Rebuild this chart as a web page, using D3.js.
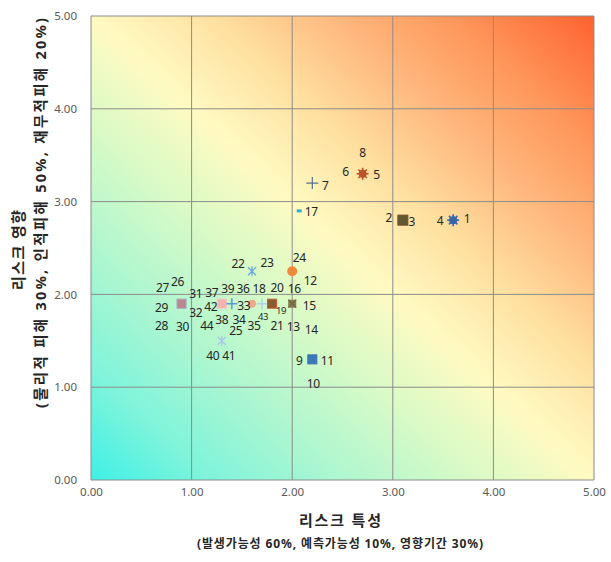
<!DOCTYPE html>
<html>
<head>
<meta charset="utf-8">
<script src="https://cdn.jsdelivr.net/npm/d3@7"></script>
<style>
  body { margin: 0; background: #fff; }
  text { font-family: "Noto Sans", "Noto Sans CJK KR", sans-serif; }
</style>
</head>
<body>
<div id="chart"></div>
<script>
// point labels with their (risk trait, risk impact) values
const pointIds = [1, 2, 3, 4, 5, 6, 7, 8, 9, 10, 11, 12, 13, 14, 15, 16, 17, 18, 19, 20, 21, 22,
    23, 24, 25, 26, 27, 28, 29, 30, 31, 32, 33, 34, 35, 36, 37, 38, 39, 40, 41, 42, 43, 44];
const riskTrait = [3.6, 3.1, 3.1, 3.6, 2.7, 2.7, 2.2, 2.7, 2.2, 2.2, 2.2, 2.0, 2.0, 2.0, 2.0, 2.0,
    2.07, 1.7, 1.8, 1.8, 1.8, 1.6, 1.6, 2.0, 1.3, 0.9, 0.9, 0.9, 0.9, 0.9, 1.3, 1.3, 1.4, 1.6,
    1.6, 1.6, 1.3, 1.4, 1.4, 1.3, 1.3, 1.3, 1.7, 1.3];
const riskImpact = [2.8, 2.8, 2.8, 2.8, 3.3, 3.3, 3.2, 3.3, 1.3, 1.3, 1.3, 2.25, 1.9, 1.9, 1.9, 1.9,
    2.9, 1.9, 1.9, 1.9, 1.9, 2.25, 2.25, 2.25, 1.5, 1.9, 1.9, 1.9, 1.9, 1.9, 1.9, 1.9, 1.9, 1.9,
    1.9, 1.9, 1.9, 1.9, 1.9, 1.5, 1.5, 1.9, 1.9, 1.9];
const axisTicks = [0, 1, 2, 3, 4, 5];

const xTitle = "리스크 특성";
const xSub = "(발생가능성 60%, 예측가능성 10%, 영향기간 30%)";
const yTitle = "리스크 영향";
const ySub = "(물리적 피해 30%, 인적피해 50%, 재무적피해 20%)";

// layout: label offsets (px) from the marker
const labelOffset = {
    1: [14, -2], 4: [-13, 0], 2: [-14, -3], 3: [9, 1],
    5: [14, 1], 6: [-17, -2], 8: [0, -21], 7: [13, 2], 17: [12, 1],
    24: [7, -14], 12: [18, 9], 22: [-14, -8], 23: [15, -9],
    26: [-4, -22], 27: [-19, -16], 29: [-20, 4], 28: [-20, 22], 30: [1, 23],
    31: [-26, -10], 37: [-10, -11], 42: [-11, 3], 32: [-26, 9], 44: [-15, 22],
    39: [-4, -15], 33: [12, 2], 38: [-10, 16],
    36: [-9, -15], 34: [-13, 16], 35: [2, 22],
    18: [-3, -15], 43: [1, 13],
    20: [5, -16], 19: [9, 7], 21: [5, 22],
    16: [2, -15], 15: [17, 2], 13: [1, 23], 14: [19, 26],
    25: [14, -10], 40: [-9, 15], 41: [7, 15],
    9: [-13, 1], 11: [15, 1], 10: [1, 24]
};
const smallLabels = [19, 43];

// marker styles for each plotted position
const markerStyle = {
    "3.6,2.8": { shape: "spiky", fill: "#3767aa", r: 4 },
    "3.1,2.8": { shape: "square", fill: "#5f5a30", stroke: "#7c4a28", s: 10 },
    "2.7,3.3": { shape: "spiky", fill: "#b9552b", r: 4 },
    "2.2,3.2": { shape: "plus", stroke: "#56708f", s: 12, w: 1.2 },
    "2.07,2.9": { shape: "dash", fill: "#3aa8c8" },
    "2,2.25": { shape: "circle", fill: "#f08a3a", r: 5 },
    "1.6,2.25": { shape: "asterisk", stroke: "#6aa8d8", s: 10, w: 1.3 },
    "0.9,1.9": { shape: "square", fill: "#b98890", stroke: "#a9a0c0", s: 9 },
    "1.3,1.9": { shape: "square", fill: "#f6b2b0", stroke: "#f8c4c0", s: 9 },
    "1.4,1.9": { shape: "plus", stroke: "#5a9ad8", s: 11, w: 1.5 },
    "1.6,1.9": { shape: "circle", fill: "#f0a88a", r: 4 },
    "1.7,1.9": { shape: "plus", stroke: "#b0d4ec", s: 11, w: 1.5 },
    "1.8,1.9": { shape: "square", fill: "#8a5a30", stroke: "#c05a30", s: 9 },
    "2,1.9": { shape: "xsquare", fill: "#8a7a58", stroke: "#6f6a40", s: 8 },
    "1.3,1.5": { shape: "asterisk", stroke: "#a8c8ea", s: 10, w: 1.3 },
    "2.2,1.3": { shape: "square", fill: "#3a7ab8", stroke: "#3570b0", s: 9 }
};

const width = 611, height = 562;
const margin = { top: 16, right: 17, bottom: 82, left: 91 };

const svg = d3.select("#chart").append("svg")
    .attr("width", width).attr("height", height);

const x = d3.scaleLinear().domain([0, 5]).range([margin.left, width - margin.right]);
const y = d3.scaleLinear().domain([0, 5]).range([height - margin.bottom, margin.top]);

// background gradient
const defs = svg.append("defs");
const grad = defs.append("linearGradient").attr("id", "bg")
    .attr("x1", 0).attr("y1", 1).attr("x2", 1).attr("y2", 0);
[[0, "#3ef0e6"], [0.12, "#80f4da"], [0.25, "#aef6d0"], [0.38, "#d8fac6"], [0.5, "#fffac2"],
 [0.62, "#ffe0a0"], [0.74, "#ffb87e"], [0.86, "#ff965a"], [1, "#ff6230"]]
    .forEach(([o, c]) => grad.append("stop").attr("offset", o).attr("stop-color", c));

svg.append("rect")
    .attr("x", x(0)).attr("y", y(5))
    .attr("width", x(5) - x(0)).attr("height", y(0) - y(5))
    .attr("fill", "url(#bg)");

// gridlines
svg.append("g").selectAll("line").data(axisTicks).join("line")
    .attr("x1", d => x(d)).attr("x2", d => x(d))
    .attr("y1", y(0)).attr("y2", y(5))
    .attr("stroke", "#8c8c8c").attr("stroke-width", 1);
svg.append("g").selectAll("line").data(axisTicks).join("line")
    .attr("y1", d => y(d)).attr("y2", d => y(d))
    .attr("x1", x(0)).attr("x2", x(5))
    .attr("stroke", "#8c8c8c").attr("stroke-width", 1);

// axes (labels only)
const xAxis = svg.append("g")
    .attr("transform", `translate(0,${y(0)})`)
    .call(d3.axisBottom(x).tickValues(axisTicks).tickFormat(d3.format(".2f")).tickSize(0).tickPadding(8));
const yAxis = svg.append("g")
    .attr("transform", `translate(${x(0)},0)`)
    .call(d3.axisLeft(y).tickValues(axisTicks).tickFormat(d3.format(".2f")).tickSize(0).tickPadding(14));
[xAxis, yAxis].forEach(g => {
    g.select(".domain").remove();
    g.selectAll("text").attr("fill", "#595959").attr("font-size", 11.5)
        .attr("font-family", "Noto Sans, sans-serif");
});

// markers
const points = pointIds.map((id, i) => ({ id, x: riskTrait[i], y: riskImpact[i] }));
const positions = Array.from(d3.group(points, d => d.x + "," + d.y).keys());

const mk = svg.append("g");
positions.forEach(key => {
    const [vx, vy] = key.split(",").map(Number);
    const st = markerStyle[key];
    const g = mk.append("g").attr("transform", `translate(${x(vx)},${y(vy)})`);
    if (st.shape === "square") {
        g.append("rect").attr("x", -st.s / 2).attr("y", -st.s / 2)
            .attr("width", st.s).attr("height", st.s)
            .attr("fill", st.fill).attr("stroke", st.stroke).attr("stroke-width", 1);
    } else if (st.shape === "circle") {
        g.append("circle").attr("r", st.r).attr("fill", st.fill);
    } else if (st.shape === "spiky") {
        g.append("circle").attr("r", st.r).attr("fill", st.fill);
        d3.range(8).forEach(k => {
            const a = k * Math.PI / 4;
            g.append("line").attr("x1", 0).attr("y1", 0)
                .attr("x2", Math.cos(a) * 6).attr("y2", Math.sin(a) * 6)
                .attr("stroke", st.fill).attr("stroke-width", 1.6);
        });
    } else if (st.shape === "plus") {
        const h = st.s / 2;
        g.append("path").attr("d", `M${-h},0H${h}M0,${-h}V${h}`)
            .attr("stroke", st.stroke).attr("stroke-width", st.w).attr("fill", "none");
    } else if (st.shape === "asterisk") {
        const h = st.s / 2;
        g.append("path").attr("d", `M${-h * 0.8},${-h * 0.8}L${h * 0.8},${h * 0.8}M${-h * 0.8},${h * 0.8}L${h * 0.8},${-h * 0.8}M0,${-h}V${h}`)
            .attr("stroke", st.stroke).attr("stroke-width", st.w).attr("fill", "none");
    } else if (st.shape === "dash") {
        g.append("rect").attr("x", -2.5).attr("y", -1.5).attr("width", 5).attr("height", 3)
            .attr("fill", st.fill);
    } else if (st.shape === "xsquare") {
        const h = st.s / 2;
        g.append("rect").attr("x", -h).attr("y", -h).attr("width", st.s).attr("height", st.s)
            .attr("fill", st.fill);
        g.append("path").attr("d", `M${-h},${-h}L${h},${h}M${-h},${h}L${h},${-h}`)
            .attr("stroke", st.stroke).attr("stroke-width", 1.2);
    }
});

// data labels
svg.append("g").selectAll("text").data(points).join("text")
    .attr("x", d => x(d.x) + labelOffset[d.id][0])
    .attr("y", d => y(d.y) + labelOffset[d.id][1])
    .attr("text-anchor", "middle")
    .attr("dominant-baseline", "central")
    .attr("font-size", d => smallLabels.includes(d.id) ? 9.5 : 12)
    .attr("letter-spacing", -0.3)
    .attr("fill", "#262626")
    .text(d => d.id);

// axis titles
const titleFont = "Noto Sans CJK KR, sans-serif";
svg.append("text")
    .attr("x", 340).attr("y", 520)
    .attr("text-anchor", "middle").attr("dominant-baseline", "central")
    .attr("font-family", titleFont).attr("font-weight", "bold").attr("font-size", 15)
    .attr("fill", "#262626")
    .attr("textLength", 82).attr("lengthAdjust", "spacing")
    .text(xTitle);
svg.append("text")
    .attr("x", 340).attr("y", 543)
    .attr("text-anchor", "middle").attr("dominant-baseline", "central")
    .attr("font-family", titleFont).attr("font-weight", "bold").attr("font-size", 12)
    .attr("fill", "#262626")
    .attr("textLength", 286).attr("lengthAdjust", "spacing")
    .text(xSub);
svg.append("text")
    .attr("transform", "translate(18,250) rotate(-90)")
    .attr("text-anchor", "middle").attr("dominant-baseline", "central")
    .attr("font-family", titleFont).attr("font-weight", "bold").attr("font-size", 15)
    .attr("fill", "#262626")
    .attr("textLength", 80).attr("lengthAdjust", "spacing")
    .text(yTitle);
svg.append("text")
    .attr("transform", "translate(40,213) rotate(-90)")
    .attr("text-anchor", "middle").attr("dominant-baseline", "central")
    .attr("font-family", titleFont).attr("font-weight", "bold").attr("font-size", 14.5)
    .attr("fill", "#262626")
    .attr("textLength", 390).attr("lengthAdjust", "spacing")
    .text(ySub);
</script>
</body>
</html>
